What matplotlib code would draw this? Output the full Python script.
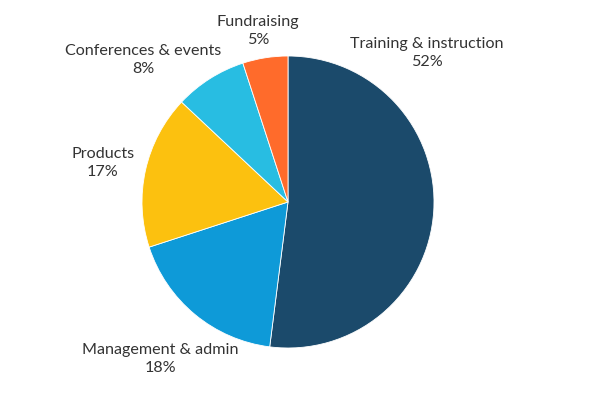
import matplotlib
matplotlib.use("Agg")
import matplotlib.pyplot as plt

categories = ["Training & instruction", "Management & admin", "Products",
              "Conferences & events", "Fundraising"]
values = [52, 18, 17, 8, 5]
colors = ["#1b4a6b", "#0e9ad8", "#fcc10f", "#28bde2", "#ff6b2b"]

# label block centres (pixel layout)
label_pos = [(427, 347), (160, 41), (103, 237), (143, 340), (258, 369)]

fig = plt.figure(figsize=(6, 4), dpi=100)
ax = fig.add_axes([0, 0, 1, 1])

ax.pie(values, colors=colors, startangle=90, counterclock=False,
       center=(288, 198), radius=146, frame=True,
       wedgeprops=dict(edgecolor="white", linewidth=0.6))
ax.set_xlim(0, 600)
ax.set_ylim(0, 400)
ax.set_aspect("equal")
ax.axis("off")

for cat, v, (x, y) in zip(categories, values, label_pos):
    ax.text(x, y, f"{cat}\n{v}%", ha="center", va="center",
            fontsize=11.6, family="Lato", color="#333333", linespacing=1.45)

fig.savefig("out.png", dpi=100)
